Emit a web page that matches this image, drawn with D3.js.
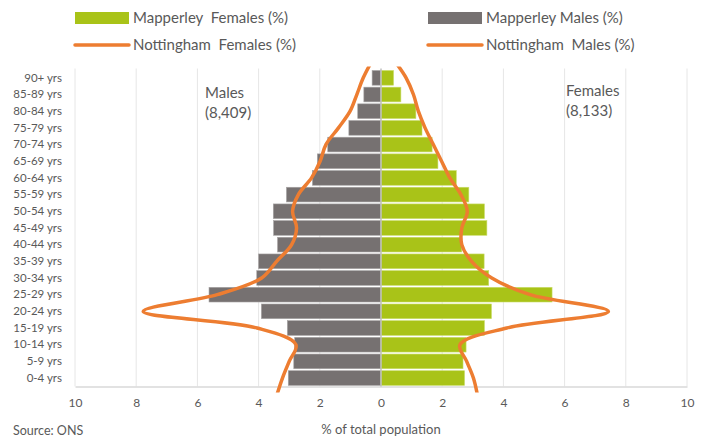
<!DOCTYPE html>
<html>
<head>
<meta charset="utf-8">
<script src="https://cdn.jsdelivr.net/npm/d3@7"></script>
<style>
  body { margin: 0; background: #fff; }
  text { font-family: Lato, "Open Sans", sans-serif; fill: #595959; white-space: pre; }
</style>
</head>
<body>
<svg id="chart"></svg>
<script>
// age groups, youngest first
const ageGroups = ['0-4 yrs', '5-9 yrs', '10-14 yrs', '15-19 yrs', '20-24 yrs', '25-29 yrs',
  '30-34 yrs', '35-39 yrs', '40-44 yrs', '45-49 yrs', '50-54 yrs', '55-59 yrs', '60-64 yrs',
  '65-69 yrs', '70-74 yrs', '75-79 yrs', '80-84 yrs', '85-89 yrs', '90+ yrs'];

const mapperleyMales = [3.03, 2.85, 2.82, 3.06, 3.91, 5.62, 4.06, 4.0, 3.38, 3.51,
  3.52, 3.09, 2.24, 2.08, 1.74, 1.05, 0.76, 0.56, 0.29];
const mapperleyFemales = [2.73, 2.68, 2.78, 3.38, 3.61, 5.59, 3.52, 3.37, 2.64, 3.46,
  3.38, 2.87, 2.46, 1.86, 1.67, 1.34, 1.14, 0.65, 0.41];

const nottMales = [3.22, 3.0, 2.78, 4.05, 7.77, 5.35, 3.9, 3.41, 2.92, 2.76,
  2.89, 2.7, 2.27, 1.99, 1.8, 1.39, 1.01, 0.79, 0.58];
const nottFemales = [3.02, 2.8, 2.58, 4.11, 7.43, 4.87, 3.62, 2.96, 2.64, 2.64,
  2.82, 2.61, 2.25, 1.98, 1.71, 1.44, 1.22, 1.06, 0.82];
// where the city lines run off past the first and last age group
const nottMalesEnds = [3.4, 0.3];
const nottFemalesEnds = [3.15, 0.45];

const xTicks = [-10, -8, -6, -4, -2, 0, 2, 4, 6, 8, 10];

const width = 706, height = 439;
const margin = { top: 69.5, right: 19, bottom: 52.6, left: 75 };

const svg = d3.select('#chart')
  .attr('width', width)
  .attr('height', height);

const xScale = d3.scaleLinear()
  .domain([-10, 10])
  .range([margin.left, width - margin.right]);

const yScale = d3.scaleBand()
  .domain(ageGroups.slice().reverse())
  .range([margin.top, height - margin.bottom])
  .paddingInner(0.12)
  .paddingOuter(0.06);

const step = yScale.step();
const yMid = d => yScale(d) + yScale.bandwidth() / 2;
const plotBottom = height - margin.bottom;

// gridlines
svg.append('g')
  .selectAll('line')
  .data(xTicks.filter(d => d !== 0))
  .join('line')
  .attr('x1', d => xScale(d)).attr('x2', d => xScale(d))
  .attr('y1', margin.top - 1).attr('y2', plotBottom)
  .attr('stroke', '#e6e6e6')
  .attr('stroke-width', 1);

// x axis
const xAxis = d3.axisBottom(xScale)
  .tickValues(xTicks)
  .tickSize(0)
  .tickPadding(12)
  .tickFormat(d => Math.abs(d));

const xAxisG = svg.append('g')
  .attr('transform', `translate(0,${plotBottom})`)
  .call(xAxis);
xAxisG.select('.domain').attr('stroke', '#d9d9d9').attr('stroke-width', 1.5);
xAxisG.selectAll('text')
  .attr('fill', '#595959')
  .style('font-size', '12px')
  .style('font-family', 'Lato, sans-serif');

// bars
const rows = ageGroups.map((a, i) => ({ age: a, m: mapperleyMales[i], f: mapperleyFemales[i] }));

svg.append('g')
  .selectAll('rect')
  .data(rows)
  .join('rect')
  .attr('x', d => xScale(-d.m))
  .attr('y', d => yScale(d.age))
  .attr('width', d => xScale(0) - xScale(-d.m))
  .attr('height', yScale.bandwidth())
  .attr('fill', '#767171')
  .attr('stroke', '#a6a3a3')
  .attr('stroke-width', 0.6);

svg.append('g')
  .selectAll('rect')
  .data(rows)
  .join('rect')
  .attr('x', xScale(0))
  .attr('y', d => yScale(d.age))
  .attr('width', d => xScale(d.f) - xScale(0))
  .attr('height', yScale.bandwidth())
  .attr('fill', '#a9c318')
  .attr('stroke', '#c9dc6a')
  .attr('stroke-width', 0.6);

// centre axis
svg.append('line')
  .attr('x1', xScale(0)).attr('x2', xScale(0))
  .attr('y1', margin.top - 1).attr('y2', plotBottom)
  .attr('stroke', '#bfbfbf')
  .attr('stroke-width', 1.5);

// y labels
const yAxis = d3.axisLeft(yScale).tickSize(0).tickPadding(13);
const yAxisG = svg.append('g')
  .attr('transform', `translate(${margin.left},0)`)
  .call(yAxis);
yAxisG.select('.domain').remove();
yAxisG.selectAll('text')
  .attr('fill', '#595959')
  .style('font-size', '11.5px')
  .style('font-family', 'Lato, sans-serif');

// Nottingham lines
svg.append('clipPath')
  .attr('id', 'clip')
  .append('rect')
  .attr('x', 0).attr('y', margin.top - 3)
  .attr('width', width).attr('height', plotBottom - margin.top + 9);

const line = d3.line()
  .x(d => d[0])
  .y(d => d[1])
  .curve(d3.curveCatmullRom.alpha(0.5));

function linePoints(vals, ends, sign) {
  const pts = [[xScale(sign * ends[0]), yMid(ageGroups[0]) + step]];
  vals.forEach((v, i) => pts.push([xScale(sign * v), yMid(ageGroups[i])]));
  pts.push([xScale(sign * ends[1]), yMid(ageGroups[ageGroups.length - 1]) - step]);
  return pts;
}

const linesG = svg.append('g').attr('clip-path', 'url(#clip)');
[[nottMales, nottMalesEnds, -1], [nottFemales, nottFemalesEnds, 1]].forEach(([vals, ends, sign]) => {
  linesG.append('path')
    .attr('d', line(linePoints(vals, ends, sign)))
    .attr('fill', 'none')
    .attr('stroke', '#ed7d31')
    .attr('stroke-width', 3.5)
    .attr('stroke-linecap', 'round');
});

// side annotations
const note = (x, y, t) => svg.append('text')
  .attr('x', x).attr('y', y)
  .style('font-size', '15px')
  .text(t);
note(205, 98, 'Males');
note(205, 118, '(8,409)');
note(566, 96, 'Females');
note(566, 116, '(8,133)');

// legend
const legend = [
  { x: 75, y: 18, kind: 'rect', color: '#a9c318', label: 'Mapperley  Females (%)' },
  { x: 428, y: 18, kind: 'rect', color: '#767171', label: 'Mapperley Males (%)' },
  { x: 75, y: 45, kind: 'line', color: '#ed7d31', label: 'Nottingham  Females (%)' },
  { x: 428, y: 45, kind: 'line', color: '#ed7d31', label: 'Nottingham  Males (%)' }
];

const legendG = svg.append('g')
  .selectAll('g')
  .data(legend)
  .join('g')
  .attr('transform', d => `translate(${d.x},${d.y})`);

legendG.filter(d => d.kind === 'rect')
  .append('rect')
  .attr('x', 0).attr('y', -6)
  .attr('width', 54).attr('height', 12)
  .attr('fill', d => d.color);

legendG.filter(d => d.kind === 'line')
  .append('line')
  .attr('x1', 0).attr('x2', 54)
  .attr('stroke', d => d.color)
  .attr('stroke-width', 3.5)
  .attr('stroke-linecap', 'round');

legendG.append('text')
  .attr('x', 58)
  .attr('dy', '0.35em')
  .style('font-size', '15px')
  .text(d => d.label);

// titles
svg.append('text')
  .attr('x', xScale(0))
  .attr('y', 434)
  .attr('text-anchor', 'middle')
  .style('font-size', '13px')
  .text('% of total population');

svg.append('text')
  .attr('x', 13)
  .attr('y', 435)
  .style('font-size', '12.5px')
  .text('Source: ONS');
</script>
</body>
</html>
